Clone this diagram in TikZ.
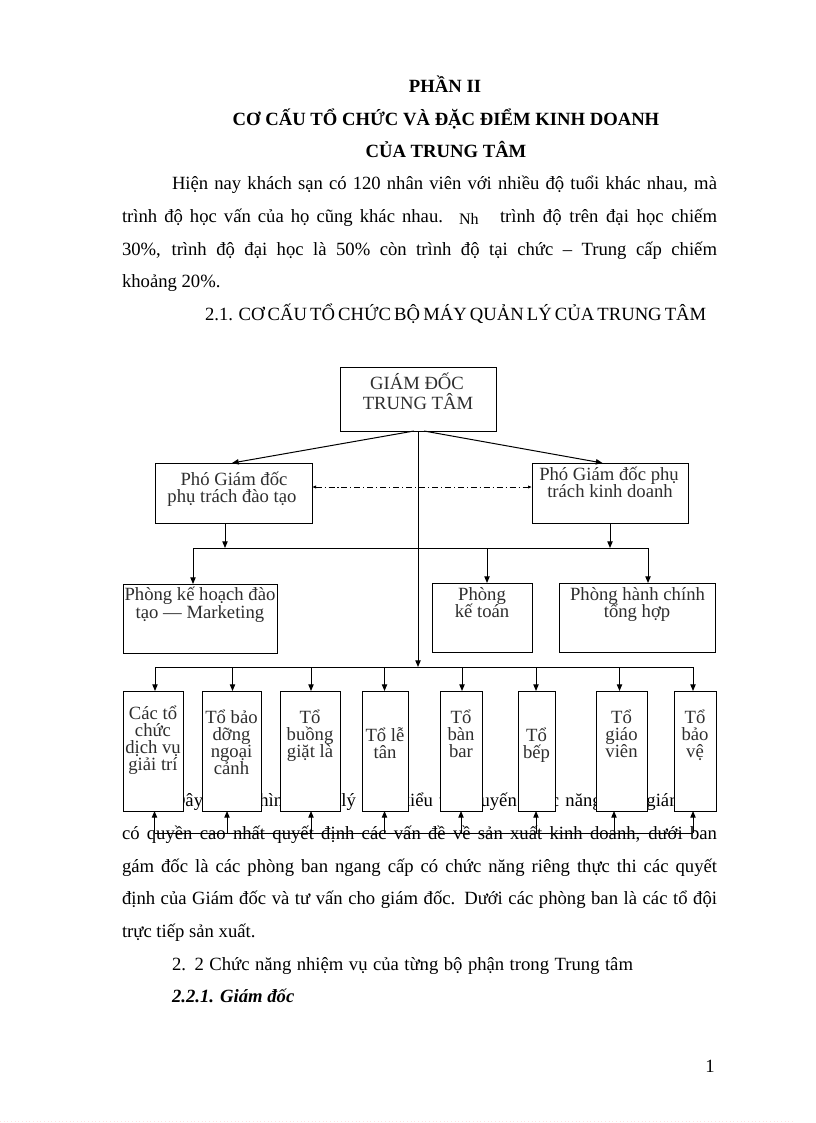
\documentclass[tikz,border=0pt]{standalone}
\usepackage{fontspec}
\setmainfont{Liberation Serif}
\usetikzlibrary{arrows.meta,fit}
\setlength\lineskiplimit{-100pt}
\newcommand\bodyf{\fontsize{14}{16}\selectfont}
\newcommand\dgf{\fontsize{14}{16}\selectfont\color{black!82}}
\tikzset{
  body/.style={anchor=base west, inner sep=0pt, outer sep=0pt, font=\bodyf},
  title/.style={anchor=base, inner sep=0pt, outer sep=0pt, font=\bodyf\bfseries},
  lbl/.style={anchor=base, inner sep=0pt, outer sep=0pt, font=\dgf},
  box/.style={draw, fill=white, line width=0.75pt, inner sep=0pt, outer sep=0pt},
  arr/.style={-{Triangle[length=5pt,width=4pt]}, line width=0.75pt},
  conn/.style={line width=0.75pt},
  dd/.style={{Latex[length=3pt,width=2.5pt]}-{Latex[length=3pt,width=2.5pt]}, line width=0.6pt,
    dash pattern=on 4.5pt off 2.2pt on 0.8pt off 2.2pt}
}
\begin{document}
\begin{tikzpicture}[x=0.75pt,y=-0.75pt]
\useasboundingbox (0,0) rectangle (816,1123);
\fill[white] (0,0) rectangle (816,1123);

% ---------- titles ----------
\node[title] (h1) at (445,93) {PHẦN II};
\node[title] (h2) at (446,126) {CƠ CẤU TỔ CHỨC VÀ ĐẶC ĐIỂM KINH DOANH};
\node[title] (h3) at (446,158) {CỦA TRUNG TÂM};

% ---------- body text above ----------
\node[body] (p1) at (172,190) {\makebox[408.75pt][s]{Hiện nay khách sạn có 120 nhân viên với nhiều độ tuổi khác nhau, mà}};
\node[body] (p2a) at (122,223) {\makebox[240.75pt][s]{trình độ học vấn của họ cũng khác nhau.}};
\node[body, font=\fontsize{12}{14}\selectfont] (p2n) at (459,224) {Nh};
\node[body] (p2b) at (500,223) {\makebox[162.75pt][s]{trình độ trên đại học chiếm}};
\node[body] (p3) at (122,255) {\makebox[446.25pt][s]{30\%, trình độ đại học là 50\% còn trình độ tại chức – Trung cấp chiếm}};
\node[body] (p4) at (122,287) {khoảng 20\%.};
\node[body] (p5) at (205,320) {\makebox[373.5pt][s]{2.1. CƠ CẤU TỔ CHỨC BỘ MÁY QUẢN LÝ CỦA TRUNG TÂM}};

% ---------- body text below ----------
\node[body] (q0) at (172,806) {\makebox[408.75pt][s]{Đây là mô hình quản lý theo kiểu trực tuyến chức năng, ban giám đốc}};
\node[body] (q1) at (122,839) {\makebox[446.25pt][s]{có quyền cao nhất quyết định các vấn đề về sản xuất kinh doanh, dưới ban}};
\node[body] (q2) at (122,872) {\makebox[446.25pt][s]{gám đốc là các phòng ban ngang cấp có chức năng riêng thực thi các quyết}};
\node[body] (q3) at (122,904) {\makebox[446.25pt][s]{định của Giám đốc và tư vấn cho giám đốc. Dưới các phòng ban là các tổ đội}};
\node[body] (q4) at (122,937) {trực tiếp sản xuất.};
\node[body] (q5) at (172,970) {\makebox[345.75pt][s]{2. 2 Chức năng nhiệm vụ của từng bộ phận trong Trung tâm}};
\node[body, font=\bodyf\bfseries\itshape] (q6) at (172,1002) {2.2.1. Giám đốc};
\node[title, font=\bodyf] (pg) at (710,1072) {1};
\draw[pink!45, dotted, line width=0.75pt] (0,1121) -- (795,1121);

% ---------- diagram: upper boxes ----------
\node[box, fit={(340,367) (496,431)}] (gd) {};
\node[lbl] (gd1) at (417,389) {GIÁM ĐỐC};
\node[lbl] (gd2) at (418,409.5) {TRUNG TÂM};

\node[box, fit={(155,463) (312,523)}] (pgd1) {};
\node[lbl] (pgd1a) at (234,485) {Phó Giám đốc};
\node[lbl] (pgd1b) at (232,502) {phụ trách đào tạo};

\node[box, fit={(532,463) (688,523)}] (pgd2) {};
\node[lbl] (pgd2a) at (609,480) {Phó Giám đốc phụ};
\node[lbl] (pgd2b) at (610,497) {trách kinh doanh};

\node[box, fit={(123,584) (277,653)}] (pkh) {};
\node[lbl] (pkha) at (200,600) {Phòng kế hoạch đào};
\node[lbl] (pkhb) at (200,618) {tạo — Marketing};

\node[box, fit={(432,583) (532,652)}] (pkt) {};
\node[lbl] (pkta) at (482,600) {Phòng};
\node[lbl] (pktb) at (482,617) {kế toán};

\node[box, fit={(559,583) (715,652)}] (phc) {};
\node[lbl] (phca) at (637.5,600) {Phòng hành chính};
\node[lbl] (phcb) at (637,617) {tổng hợp};

% ---------- diagram: lower boxes ----------
\node[box, fit={(123,691) (183,811)}] (b1) {};
\node[box, fit={(202,691) (261,811)}] (b2) {};
\node[box, fit={(280,691) (340,811)}] (b3) {};
\node[box, fit={(362,691) (408,811)}] (b4) {};
\node[box, fit={(440,691) (482,811)}] (b5) {};
\node[box, fit={(518,691) (555,811)}] (b6) {};
\node[box, fit={(596,691) (647,811)}] (b7) {};
\node[box, fit={(674.5,691) (716,811)}] (b8) {};

\node[lbl] (b1a) at (153,719) {Các tổ};
\node[lbl] (b1b) at (153,736) {chức};
\node[lbl] (b1c) at (153,753) {dịch vụ};
\node[lbl] (b1d) at (153,770) {giải trí};

\node[lbl] (b2a) at (231.5,723) {Tổ bảo};
\node[lbl] (b2b) at (231.5,740) {dỡng};
\node[lbl] (b2c) at (231.5,757) {ngoại};
\node[lbl] (b2d) at (231.5,774) {cảnh};

\node[lbl] (b3a) at (310,723) {Tổ};
\node[lbl] (b3b) at (310,740) {buồng};
\node[lbl] (b3c) at (310,757) {giặt là};

\node[lbl] (b4a) at (385,741) {Tổ lễ};
\node[lbl] (b4b) at (385,758) {tân};

\node[lbl] (b5a) at (461,723) {Tổ};
\node[lbl] (b5b) at (461,740) {bàn};
\node[lbl] (b5c) at (461,757) {bar};

\node[lbl] (b6a) at (536.5,741) {Tổ};
\node[lbl] (b6b) at (536.5,758) {bếp};

\node[lbl] (b7a) at (621.5,723) {Tổ};
\node[lbl] (b7b) at (621.5,740) {giáo};
\node[lbl] (b7c) at (621.5,757) {viên};

\node[lbl] (b8a) at (695,723) {Tổ};
\node[lbl] (b8b) at (695,740) {bảo};
\node[lbl] (b8c) at (695,757) {vệ};

% ---------- connectors ----------
\draw[arr] ([xshift=-3pt]gd.south) -- ([xshift=-1.1pt]pgd1.north);
\draw[arr] ([xshift=4.5pt]gd.south) -- ([xshift=-5.6pt]pgd2.north);
\draw[dd] ([yshift=4.5pt]pgd1.east) -- ([yshift=4.5pt]pgd2.west);

\coordinate (m1) at (193,548);
\coordinate (m2) at (225,548);
\coordinate (m3) at (487,548);
\coordinate (m4) at (610,548);
\coordinate (m5) at (648,548);
\draw[conn] (m1) -- (m5);
\draw[arr] (m2 |- pgd1.south) -- (m2);
\draw[arr] (m4 |- pgd2.south) -- (m4);
\draw[arr] (m1) -- (m1 |- pkh.north);
\draw[arr] (m3) -- (m3 |- pkt.north);
\draw[arr] (m5) -- (m5 |- phc.north);

\coordinate (t0) at (417,667);
\draw[arr] (gd.south) -- (gd.south |- t0);

\coordinate (t1) at (155,667);
\coordinate (t2) at (232.5,667);
\coordinate (t3) at (311,667);
\coordinate (t4) at (384.5,667);
\coordinate (t5) at (462,667);
\coordinate (t6) at (536,667);
\coordinate (t7) at (619.5,667);
\coordinate (t8) at (693,667);
\draw[conn] (t1) -- (t8);
\foreach \i in {1,...,8} {\draw[arr] (t\i) -- (t\i |- b\i.north);}

\coordinate (u1) at (154.5,833);
\coordinate (u2) at (227,833);
\coordinate (u3) at (311,833);
\coordinate (u4) at (384.5,833);
\coordinate (u5) at (461,833);
\coordinate (u6) at (536,833);
\coordinate (u7) at (614,833);
\coordinate (u8) at (693,833);
\draw[conn] (u1) -- (u8);
\foreach \i in {1,...,8} {\draw[arr] (u\i) -- (u\i |- b\i.south);}
\end{tikzpicture}
\end{document}
